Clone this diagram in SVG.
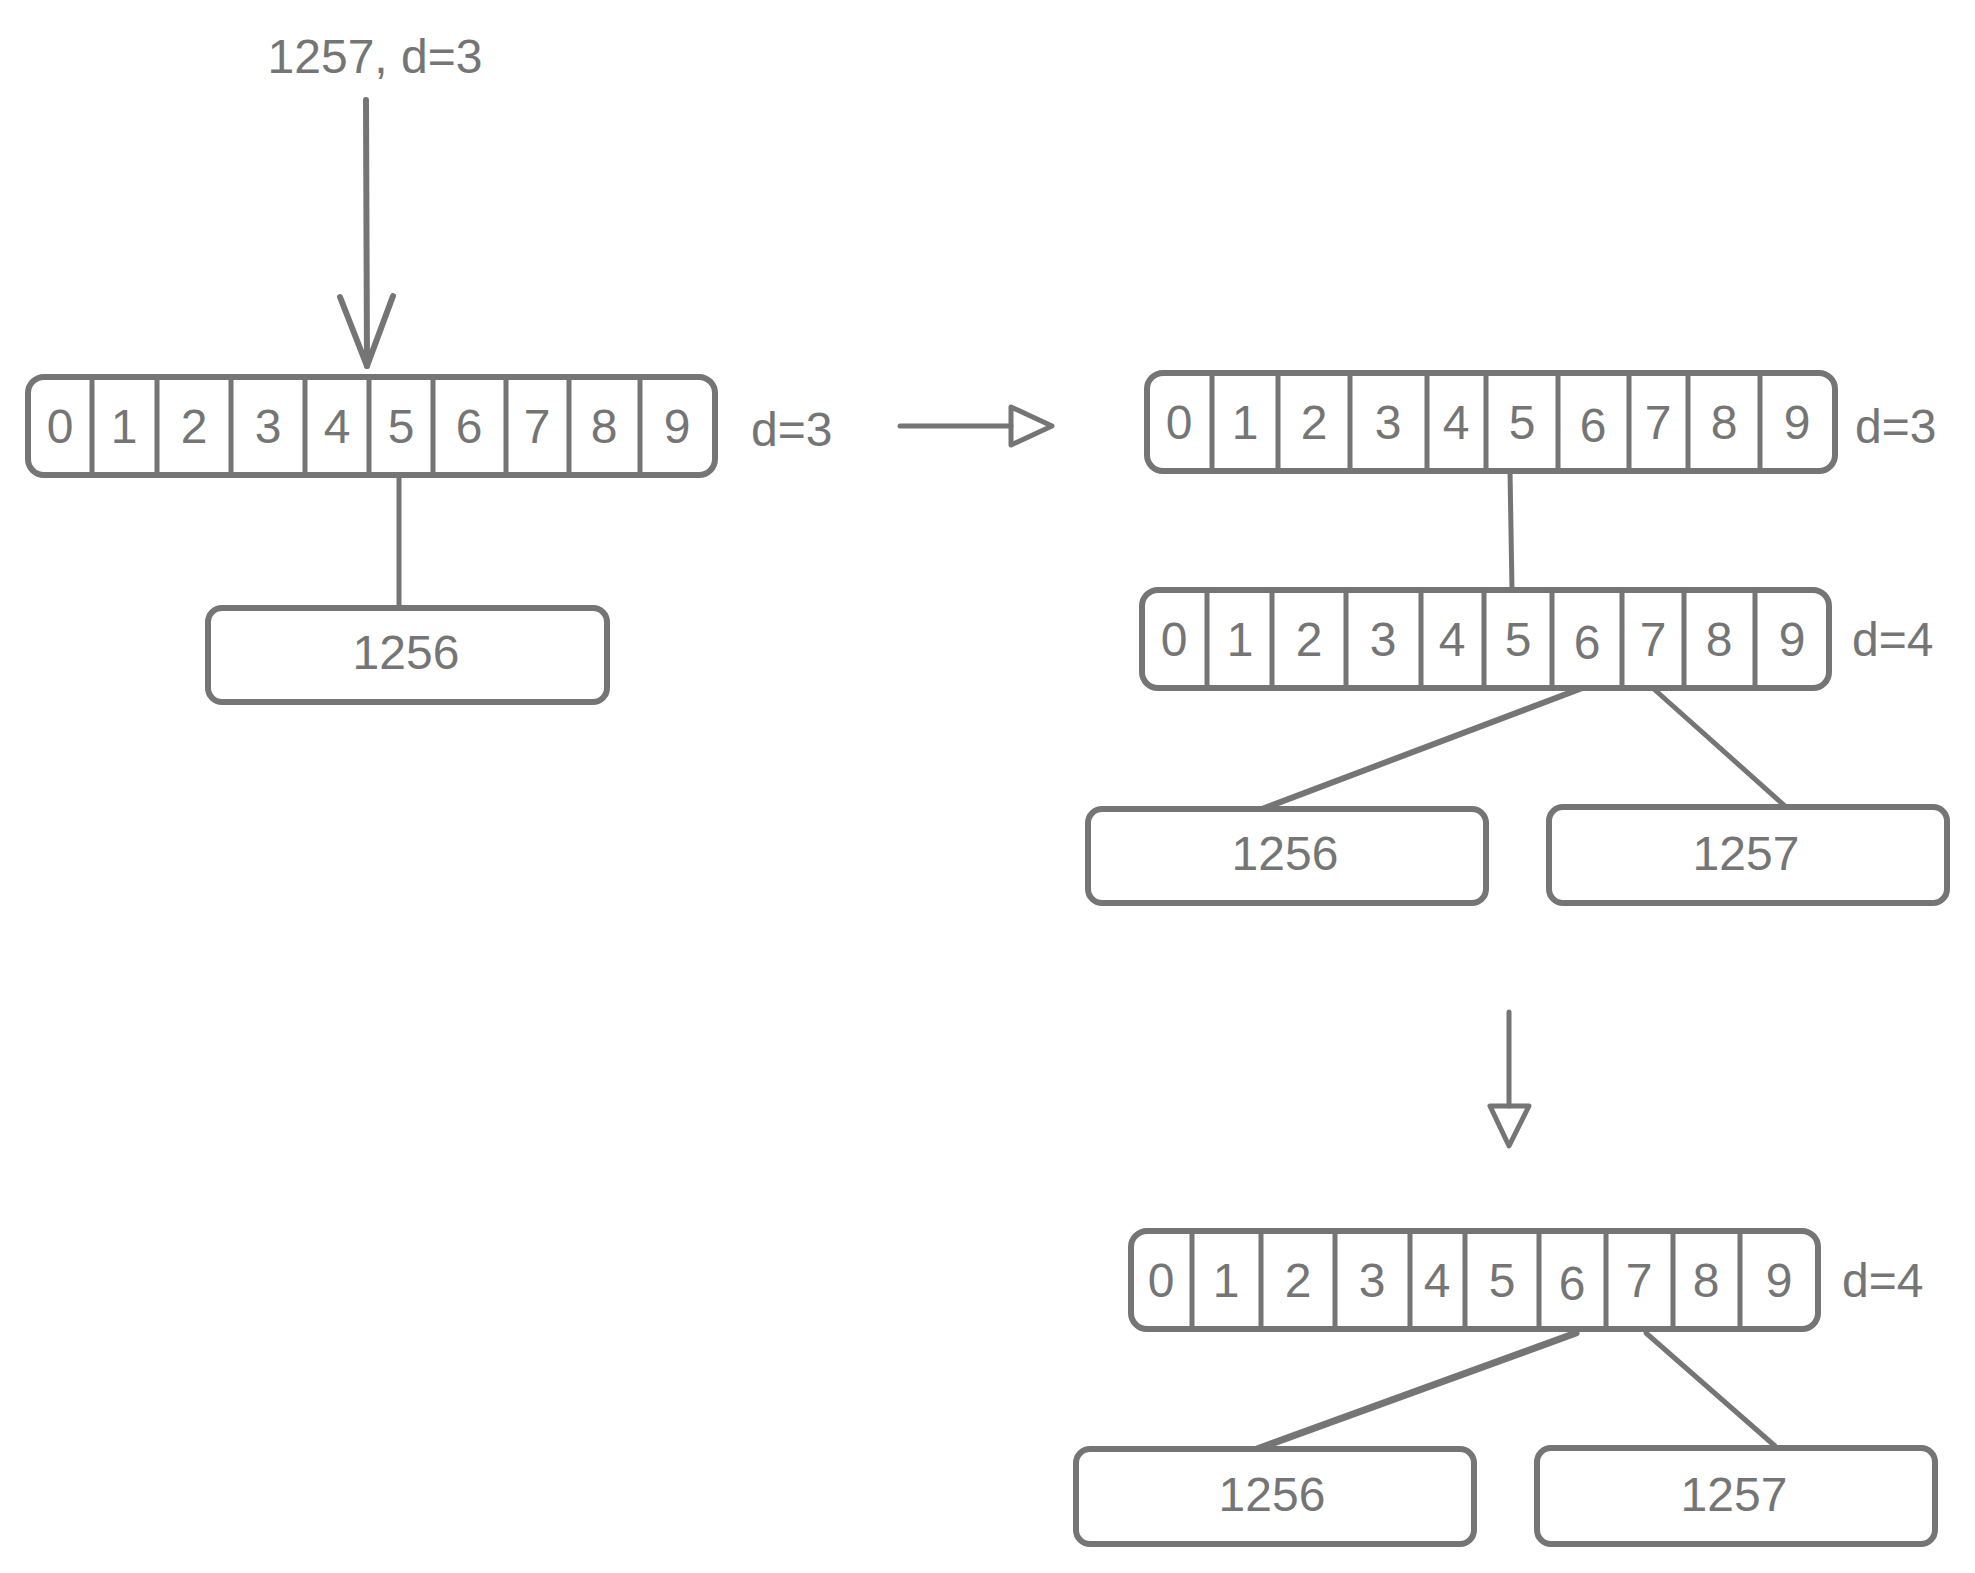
<svg xmlns="http://www.w3.org/2000/svg" width="1975" height="1573" viewBox="0 0 1975 1573">
<defs>
<style>
.b{fill:#fff;stroke:#757575;stroke-width:6;stroke-linejoin:round}
.d{stroke:#757575;stroke-width:5;fill:none;stroke-linecap:round}
.c{stroke:#757575;stroke-width:5;fill:none;stroke-linecap:round;stroke-linejoin:round}
.t{font-family:"Liberation Sans",Arial,sans-serif;font-size:48px;fill:#757575;text-anchor:middle}
.l{font-family:"Liberation Sans",Arial,sans-serif;font-size:48px;fill:#757575;text-anchor:start}
</style>
</defs>
<rect width="1975" height="1573" fill="#fff"/>

<g id="connectors">
  <line class="c" x1="366" y1="100" x2="367" y2="366" style="stroke-width:6"/>
  <polyline class="c" points="340,297 367,366 393,296" style="stroke-width:6"/>
  <line class="c" x1="399" y1="476" x2="399" y2="608"/>
  <line class="c" x1="900" y1="426" x2="1011" y2="426"/>
  <polygon class="c" points="1011,407 1052,426 1011,445" fill="#fff"/>
  <line class="c" x1="1510" y1="471" x2="1512" y2="590"/>
  <line class="c" x1="1585" y1="687" x2="1262" y2="809" style="stroke-width:6"/>
  <line class="c" x1="1655" y1="690" x2="1785" y2="806"/>
  <line class="c" x1="1509" y1="1012" x2="1509" y2="1106"/>
  <polygon class="c" points="1490,1106 1529,1106 1509,1146" fill="#fff"/>
  <line class="c" x1="1576" y1="1333" x2="1257" y2="1449" style="stroke-width:7"/>
  <line class="c" x1="1646" y1="1333" x2="1775" y2="1446"/>
</g>

<g id="label-input">
  <text class="t" x="375" y="73">1257, d=3</text>
</g>

<g id="array-a">
  <rect class="b" x="28" y="377" width="687" height="98" rx="16"/>
  <g class="d">
    <line x1="92" y1="377" x2="92" y2="475"/><line x1="157" y1="377" x2="157" y2="475"/>
    <line x1="231" y1="377" x2="231" y2="475"/><line x1="305" y1="377" x2="305" y2="475"/>
    <line x1="369" y1="377" x2="369" y2="475"/><line x1="433" y1="377" x2="433" y2="475"/>
    <line x1="506" y1="377" x2="506" y2="475"/><line x1="569" y1="377" x2="569" y2="475"/>
    <line x1="640" y1="377" x2="640" y2="475"/>
  </g>
  <g class="t">
    <text x="60" y="443">0</text><text x="124" y="443">1</text><text x="194" y="443">2</text>
    <text x="268" y="443">3</text><text x="337" y="443">4</text><text x="401" y="443">5</text>
    <text x="469" y="443">6</text><text x="537" y="443">7</text><text x="604" y="443">8</text>
    <text x="677" y="443">9</text>
  </g>
  <text class="l" x="751" y="446">d=3</text>
</g>

<g id="box-a-1256">
  <rect class="b" x="208" y="608" width="399" height="94" rx="14"/>
  <text class="t" x="406" y="669">1256</text>
</g>

<g id="array-b">
  <rect class="b" x="1147" y="373" width="688" height="98" rx="16"/>
  <g class="d">
    <line x1="1212" y1="373" x2="1212" y2="471"/><line x1="1278" y1="373" x2="1278" y2="471"/>
    <line x1="1350" y1="373" x2="1350" y2="471"/><line x1="1427" y1="373" x2="1427" y2="471"/>
    <line x1="1486" y1="373" x2="1486" y2="471"/><line x1="1558" y1="373" x2="1558" y2="471"/>
    <line x1="1629" y1="373" x2="1629" y2="471"/><line x1="1688" y1="373" x2="1688" y2="471"/>
    <line x1="1760" y1="373" x2="1760" y2="471"/>
  </g>
  <g class="t">
    <text x="1179" y="439">0</text><text x="1245" y="439">1</text><text x="1314" y="439">2</text>
    <text x="1388" y="439">3</text><text x="1456" y="439">4</text><text x="1522" y="439">5</text>
    <text x="1593" y="442">6</text><text x="1658" y="439">7</text><text x="1724" y="439">8</text>
    <text x="1797" y="439">9</text>
  </g>
  <text class="l" x="1855" y="443">d=3</text>
</g>

<g id="array-c">
  <rect class="b" x="1142" y="590" width="687" height="98" rx="16"/>
  <g class="d">
    <line x1="1207" y1="590" x2="1207" y2="688"/><line x1="1272" y1="590" x2="1272" y2="688"/>
    <line x1="1346" y1="590" x2="1346" y2="688"/><line x1="1421" y1="590" x2="1421" y2="688"/>
    <line x1="1484" y1="590" x2="1484" y2="688"/><line x1="1552" y1="590" x2="1552" y2="688"/>
    <line x1="1622" y1="590" x2="1622" y2="688"/><line x1="1684" y1="590" x2="1684" y2="688"/>
    <line x1="1755" y1="590" x2="1755" y2="688"/>
  </g>
  <g class="t">
    <text x="1174" y="656">0</text><text x="1240" y="656">1</text><text x="1309" y="656">2</text>
    <text x="1383" y="656">3</text><text x="1452" y="656">4</text><text x="1518" y="656">5</text>
    <text x="1587" y="659">6</text><text x="1653" y="656">7</text><text x="1719" y="656">8</text>
    <text x="1792" y="656">9</text>
  </g>
  <text class="l" x="1852" y="656">d=4</text>
</g>

<g id="box-c-1256">
  <rect class="b" x="1088" y="809" width="398" height="94" rx="14"/>
  <text class="t" x="1285" y="870">1256</text>
</g>
<g id="box-c-1257">
  <rect class="b" x="1549" y="807" width="398" height="96" rx="14"/>
  <text class="t" x="1746" y="870">1257</text>
</g>

<g id="array-d">
  <rect class="b" x="1131" y="1231" width="687" height="98" rx="16"/>
  <g class="d">
    <line x1="1192" y1="1231" x2="1192" y2="1329"/><line x1="1261" y1="1231" x2="1261" y2="1329"/>
    <line x1="1335" y1="1231" x2="1335" y2="1329"/><line x1="1410" y1="1231" x2="1410" y2="1329"/>
    <line x1="1465" y1="1231" x2="1465" y2="1329"/><line x1="1539" y1="1231" x2="1539" y2="1329"/>
    <line x1="1606" y1="1231" x2="1606" y2="1329"/><line x1="1673" y1="1231" x2="1673" y2="1329"/>
    <line x1="1740" y1="1231" x2="1740" y2="1329"/>
  </g>
  <g class="t">
    <text x="1161" y="1297">0</text><text x="1226" y="1297">1</text><text x="1298" y="1297">2</text>
    <text x="1372" y="1297">3</text><text x="1437" y="1297">4</text><text x="1502" y="1297">5</text>
    <text x="1572" y="1300">6</text><text x="1639" y="1297">7</text><text x="1706" y="1297">8</text>
    <text x="1779" y="1297">9</text>
  </g>
  <text class="l" x="1842" y="1297">d=4</text>
</g>

<g id="box-d-1256">
  <rect class="b" x="1076" y="1449" width="398" height="95" rx="14"/>
  <text class="t" x="1272" y="1511">1256</text>
</g>
<g id="box-d-1257">
  <rect class="b" x="1537" y="1448" width="398" height="96" rx="14"/>
  <text class="t" x="1734" y="1511">1257</text>
</g>
</svg>
